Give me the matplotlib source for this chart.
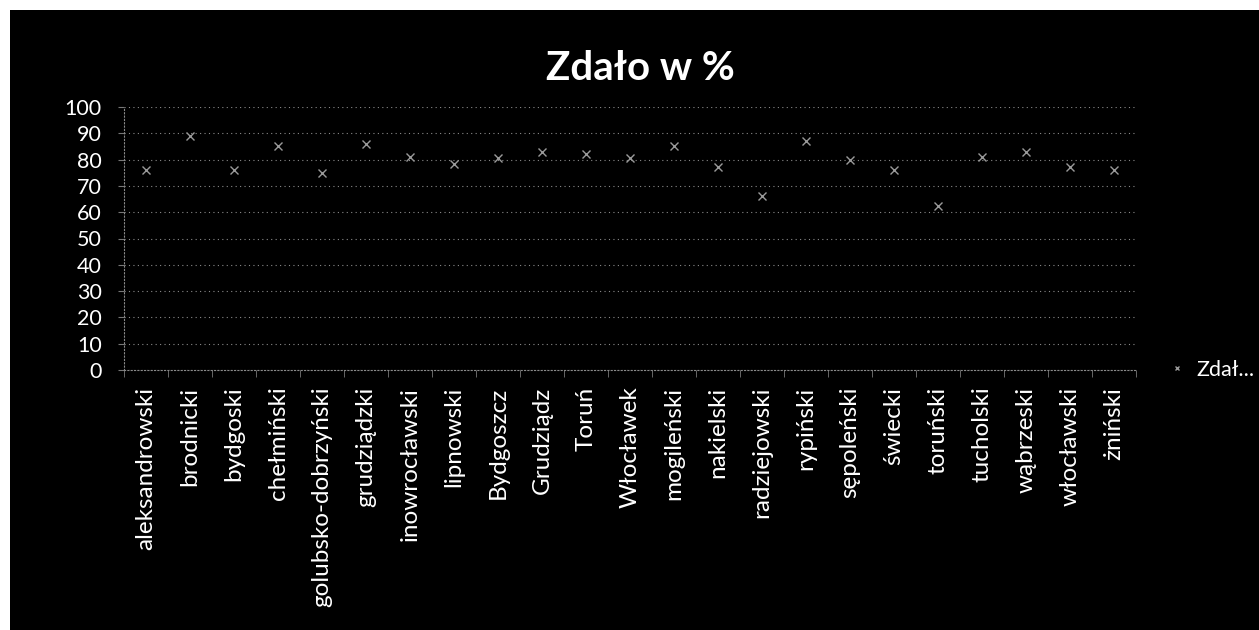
import matplotlib.pyplot as plt
from matplotlib.patches import Rectangle
import numpy as np

plt.rcParams['font.family'] = ['Lato', 'DejaVu Sans']

powiaty = ['aleksandrowski', 'brodnicki', 'bydgoski', 'chełmiński',
           'golubsko-dobrzyński', 'grudziądzki', 'inowrocławski', 'lipnowski',
           'Bydgoszcz', 'Grudziądz', 'Toruń', 'Włocławek', 'mogileński',
           'nakielski', 'radziejowski', 'rypiński', 'sępoleński', 'świecki',
           'toruński', 'tucholski', 'wąbrzeski', 'włocławski', 'żniński']
zdalo = [76, 89, 76, 85, 75, 86, 81, 78.5, 80.5, 83, 82, 80.5, 85,
         77, 66, 87, 80, 76, 62.5, 81, 83, 77, 76]
y_ticks = list(range(0, 101, 10))

fig = plt.figure(figsize=(12.59, 6.30), dpi=100, facecolor='white')
# czarne tlo wykresu (skan)
fig.patches.append(Rectangle((10 / 1259, 0), 1 - 10 / 1259, 1 - 10 / 630,
                             transform=fig.transFigure, facecolor='black',
                             edgecolor='none', zorder=-10))

ax = fig.add_axes([124 / 1259, 1 - 370 / 630, (1136 - 124) / 1259, (370 - 107) / 630])
ax.set_facecolor('black')

x = np.arange(len(powiaty))
ax.plot(x, zdalo, linestyle='none', marker='x', markersize=6,
        markeredgewidth=1.0, color='#9a9a9a', label='Zdał...')

ax.set_xlim(-0.5, len(powiaty) - 0.5)
ax.set_ylim(0, 100)
ax.set_yticks(y_ticks)
ax.set_xticks(x)
ax.set_xticklabels(powiaty, rotation=90, color='white', fontsize=17.5)
ax.set_xticks(np.arange(-0.5, len(powiaty), 1), minor=True)
ax.tick_params(axis='x', which='major', length=0, pad=12)
ax.tick_params(axis='x', which='minor', length=5, color='#777777')
ax.tick_params(axis='y', colors='white', labelsize=15.5, length=4, pad=12)
ax.tick_params(axis='y', color='#777777')

ax.grid(axis='y', color='#8a8a8a', linestyle=(0, (1, 3)), linewidth=0.8)
for side in ['top', 'right']:
    ax.spines[side].set_visible(False)
for side in ['left', 'bottom']:
    ax.spines[side].set_color('#8a8a8a')
    ax.spines[side].set_linestyle((0, (1, 2)))
    ax.spines[side].set_linewidth(0.8)

fig.text(640 / 1259, 1 - 68 / 630, 'Zdało w %', color='white', fontsize=29,
         fontweight='bold', ha='center', va='center')

leg = ax.legend(loc='center left', bbox_to_anchor=(0.034, 0.0),
                bbox_transform=ax.transAxes, frameon=False, fontsize=15.5,
                handlelength=0.6, handletextpad=0.6, borderpad=0,
                borderaxespad=0, markerscale=0.6)
leg.set_bbox_to_anchor((1.034, 0.0), transform=ax.transAxes)
for t in leg.get_texts():
    t.set_color('white')

fig.savefig('out.png', dpi=100, facecolor=fig.get_facecolor())
